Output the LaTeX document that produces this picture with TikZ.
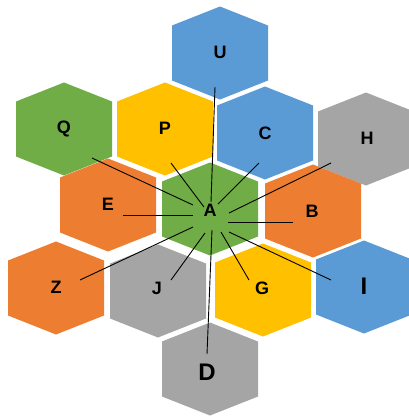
\documentclass[tikz,border=0pt]{standalone}
\usepackage{fontspec}
\setmainfont{Liberation Sans}
\usepackage{tikz}
\usetikzlibrary{positioning}
\definecolor{HexBlue}{RGB}{91, 155, 213}
\definecolor{HexOrange}{RGB}{237, 125, 49}
\definecolor{HexGray}{RGB}{165, 165, 165}
\definecolor{HexYellow}{RGB}{255, 192, 0}
\definecolor{HexGreen}{RGB}{112, 173, 71}

\tikzset{
  hexlabel/.style={inner sep=0pt, font=\fontsize{18}{18}\selectfont\bfseries},
  biglabel/.style={inner sep=0pt, font=\fontsize{24}{24}\selectfont\bfseries},
  spoke/.style={black, line width=0.9pt}
}

\begin{document}
\begin{tikzpicture}[x=1pt, y=-1pt]
    \useasboundingbox (0,0) rectangle (409,416);

    % Hexagons (pointy top)
    \foreach \n/\x/\y/\col in {U/220/53/HexBlue, Q/64/129/HexGreen, P/165/129/HexYellow,
        C/265/133/HexBlue, H/366/139/HexGray, E/108/205/HexOrange, A/210/209/HexGreen,
        B/313/211/HexOrange, Z/56/288/HexOrange, J/158/291/HexGray, G/263/290/HexYellow,
        I/364/287/HexBlue, D/210/369/HexGray} {
      \fill[\col] (\x,\y) ++(0,-46.5) -- ++(48,19) -- ++(0,55) -- ++(-48,19)
          -- ++(-48,-19) -- ++(0,-55) -- cycle;
    }

    % Lines from A
    \foreach \n/\ax/\ay/\bx/\by in {Q/193/205/92/158, P/204/207/171/163, U/211/202/215/87,
        C/218/204/259/163, H/229/213/331/163, B/228/222/293/222, I/229/232/331/280,
        G/221/232/249/280, D/212/230/207/354, J/205/233/171/280, Z/193/227/80/280,
        E/193/215/123/215} {
      \coordinate (in\n) at (\ax,\ay);
      \coordinate (out\n) at (\bx,\by);
      \draw[spoke] (in\n) -- (out\n);
    }

    % Labels
    \node[hexlabel] (labU) at (220,52) {U};
    \node[hexlabel] (labQ) at (64,129) {Q};
    \node[hexlabel] (labP) at (165,128) {P};
    \node[hexlabel] (labC) at (265,133) {C};
    \node[hexlabel] (labH) at (367,138) {H};
    \node[hexlabel] (labE) at (108,204) {E};
    \node[hexlabel] (labA) at (210,210) {A};
    \node[hexlabel] (labB) at (312,211) {B};
    \node[hexlabel] (labZ) at (56,287) {Z};
    \node[hexlabel] (labJ) at (157,288) {J};
    \node[hexlabel] (labG) at (262,288) {G};
    \node[biglabel] (labI) at (364,286) {I};
    \node[biglabel] (labD) at (207,372) {D};
\end{tikzpicture}
\end{document}
